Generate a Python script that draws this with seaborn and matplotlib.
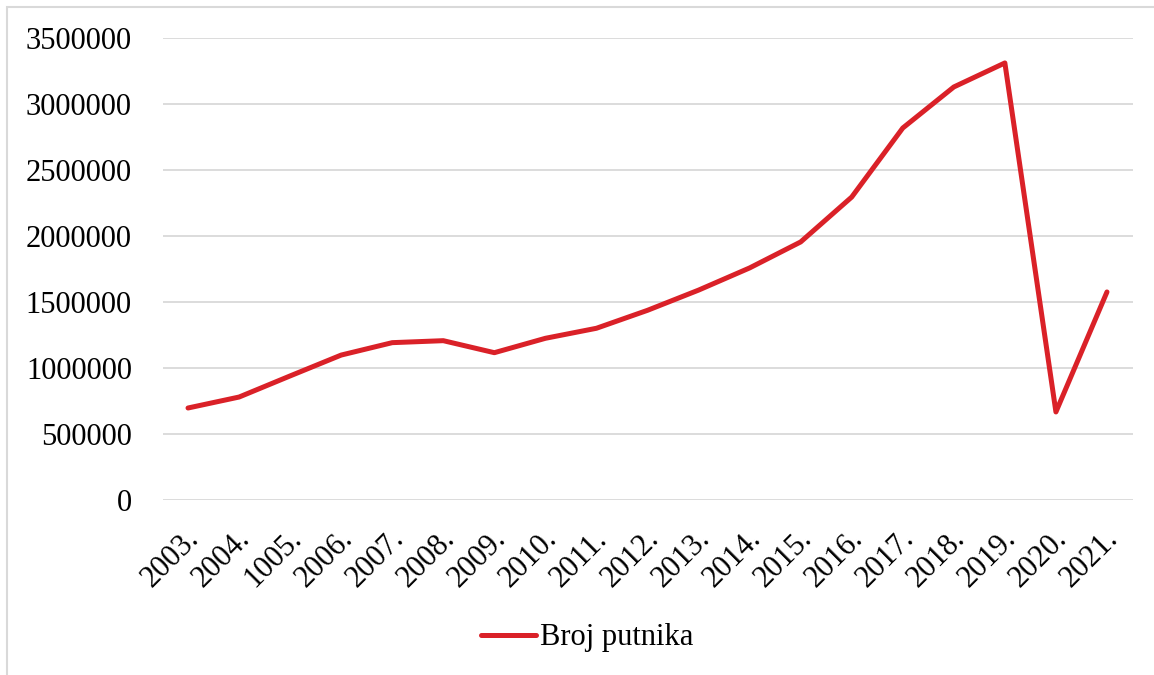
import pandas as pd
import matplotlib
matplotlib.use('Agg')
from matplotlib import pyplot as plt
from matplotlib.patches import Rectangle
from matplotlib.transforms import ScaledTranslation
import seaborn as sns

YEARS = ['2003.', '2004.', '1005.', '2006.', '2007.', '2008.', '2009.', '2010.', '2011.', '2012.',
         '2013.', '2014.', '2015.', '2016.', '2017.', '2018.', '2019.', '2020.', '2021.']
PASSENGERS = [697000, 780000, 940000, 1098000, 1192000, 1207000, 1116000, 1225000, 1301000, 1437000,
              1590000, 1758000, 1955000, 2295000, 2818000, 3129000, 3311000, 667000, 1576000]
SERIES_NAME = 'Broj putnika'
Y_TICKS = [0, 500000, 1000000, 1500000, 2000000, 2500000, 3000000, 3500000]

LINE_COLOR = '#DA2128'
GRID_COLOR = '#D9D9D9'

sns.set_theme(style='white')
plt.rcParams['font.family'] = ['Liberation Serif', 'DejaVu Serif']

data = pd.DataFrame({'Godina': YEARS, SERIES_NAME: PASSENGERS})

fig = plt.figure(figsize=(11.54, 6.75), dpi=100)
ax = fig.add_axes([162.5 / 1154, 175 / 675, 970 / 1154, 462 / 675])

sns.lineplot(data=data, x='Godina', y=SERIES_NAME, color=LINE_COLOR, linewidth=3.6,
             label=SERIES_NAME, ax=ax, sort=False, solid_capstyle='round')

ax.set_xlim(-0.5, len(YEARS) - 0.5)
ax.set_ylim(0, 3500000)
ax.set_yticks(Y_TICKS)
ax.set_yticklabels([str(v) for v in Y_TICKS])
ax.yaxis.grid(True, color=GRID_COLOR, linewidth=1.3)
ax.xaxis.grid(False)
ax.set_axisbelow(True)
for side in ['top', 'right', 'left', 'bottom']:
    ax.spines[side].set_visible(False)
ax.set_xlabel('')
ax.set_ylabel('')
ax.tick_params(axis='y', length=0, pad=22, labelsize=22, colors='black')
ax.tick_params(axis='x', length=0, pad=25, labelsize=22, colors='black')
offset = ScaledTranslation(7 / 100, 0, fig.dpi_scale_trans)
for lbl in ax.get_xticklabels():
    lbl.set_rotation(45)
    lbl.set_ha('right')
    lbl.set_va('center')
    lbl.set_rotation_mode('anchor')
    lbl.set_transform(lbl.get_transform() + offset)

leg = ax.legend(loc='center', bbox_to_anchor=(587 / 1154, 1 - 638 / 675), bbox_transform=fig.transFigure,
                frameon=False, fontsize=22, handlelength=1.8, handletextpad=0.15)
for t in leg.get_texts():
    t.set_color('black')

# thin frame around the chart area
fig.patches.append(Rectangle((7 / 1154, -0.1), 1.2, 1 - 7 / 675 + 0.1, transform=fig.transFigure,
                             fill=False, edgecolor=GRID_COLOR, linewidth=1.5))

fig.savefig('out.png', dpi=100, facecolor='white')
plt.close()
